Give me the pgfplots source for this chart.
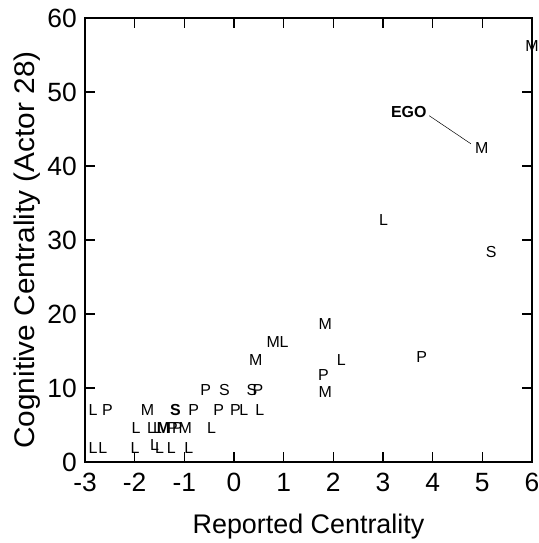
\documentclass[border=0pt]{standalone}
\usepackage{pgfplots}
\pgfplotsset{compat=1.18}
\usepackage{pgfplotstable}
\usepackage{fontspec}
\setmainfont{Liberation Sans}
\newfontfamily\widefont{Liberation Sans}[FakeStretch=1.05]

% actor positions: reported vs cognitive centrality, label = role letter
\pgfplotstableread{
x y lab
6.00 56.2 M
4.99 42.4 M
3.01 32.7 L
5.18 28.4 S
1.84 18.6 M
0.79 16.2 M
1.01 16.2 L
0.44 13.8 M
2.16 13.8 L
3.78 14.2 P
1.80 11.8 P
1.84 9.5 M
-0.57 9.7 P
-0.19 9.7 S
0.36 9.7 S
0.48 9.7 P
-2.84 7.0 L
-2.55 7.0 P
-1.74 7.0 M
-0.81 7.0 P
-0.31 7.0 P
0.03 7.0 P
0.20 7.0 L
0.52 7.0 L
-1.97 4.6 L
-1.66 4.6 L
-1.54 4.6 L
-1.24 4.6 P
-1.14 4.6 P
-0.98 4.6 M
-0.45 4.6 L
-2.84 1.9 L
-2.64 1.9 L
-1.99 1.9 L
-1.60 2.3 L
-1.50 1.9 L
-1.26 1.9 L
-0.91 1.9 L
}\normaltab

\pgfplotstableread{
x y lab
-1.18 7.0 S
-1.42 4.6 M
3.52 47.3 EGO
}\boldtab

\begin{document}
\begin{tikzpicture}
\begin{axis}[
  scale only axis,
  width=447bp, height=444bp,
  xmin=-3, xmax=6, ymin=0, ymax=60,
  xtick={-3,...,6}, ytick={0,10,...,60},
  xticklabels={-3,-2,-1,0,1,2,3,4,5,6},
  yticklabels={0,10,20,30,40,50,60},
  tick align=inside,
  major tick length=10bp,
  axis line style={line width=1.4pt},
  every tick/.style={black, line width=1.2pt},
  tick label style={font=\fontsize{26.5}{26.5}\selectfont, inner sep=0pt},
  xticklabel style={anchor=north, yshift=-11bp},
  yticklabel style={anchor=east, xshift=-8bp},
  xlabel={Reported Centrality},
  ylabel={Cognitive Centrality (Actor 28)},
  label style={inner sep=0pt},
  xlabel style={font=\fontsize{27}{27}\selectfont,
    at={(axis description cs:0.5,0)}, anchor=base, yshift=-71bp},
  ylabel style={font=\widefont\fontsize{28.5}{28.5}\selectfont,
    at={(axis description cs:0,0.5)}, anchor=base, yshift=50bp, xshift=-10bp},
  clip=false,
]
\addplot[draw=none, mark=none, nodes near coords, point meta=explicit symbolic,
  nodes near coords style={anchor=center, inner sep=0pt, font=\fontsize{16}{16}\selectfont}]
  table[meta=lab] {\normaltab};
\addplot[draw=none, mark=none, nodes near coords, point meta=explicit symbolic,
  nodes near coords style={anchor=center, inner sep=0pt, font=\bfseries\fontsize{16}{16}\selectfont}]
  table[meta=lab] {\boldtab};
\draw[line width=0.5pt] (axis cs:3.93,46.8) -- (axis cs:4.77,43.0);
\coordinate (bl) at (rel axis cs:0,0);
\coordinate (tr) at (rel axis cs:1,1);
\end{axis}
\pgfresetboundingbox
\path ([shift={(-85bp,-81bp)}]bl) rectangle ([shift={(7bp,18bp)}]tr);
\end{tikzpicture}
\end{document}
